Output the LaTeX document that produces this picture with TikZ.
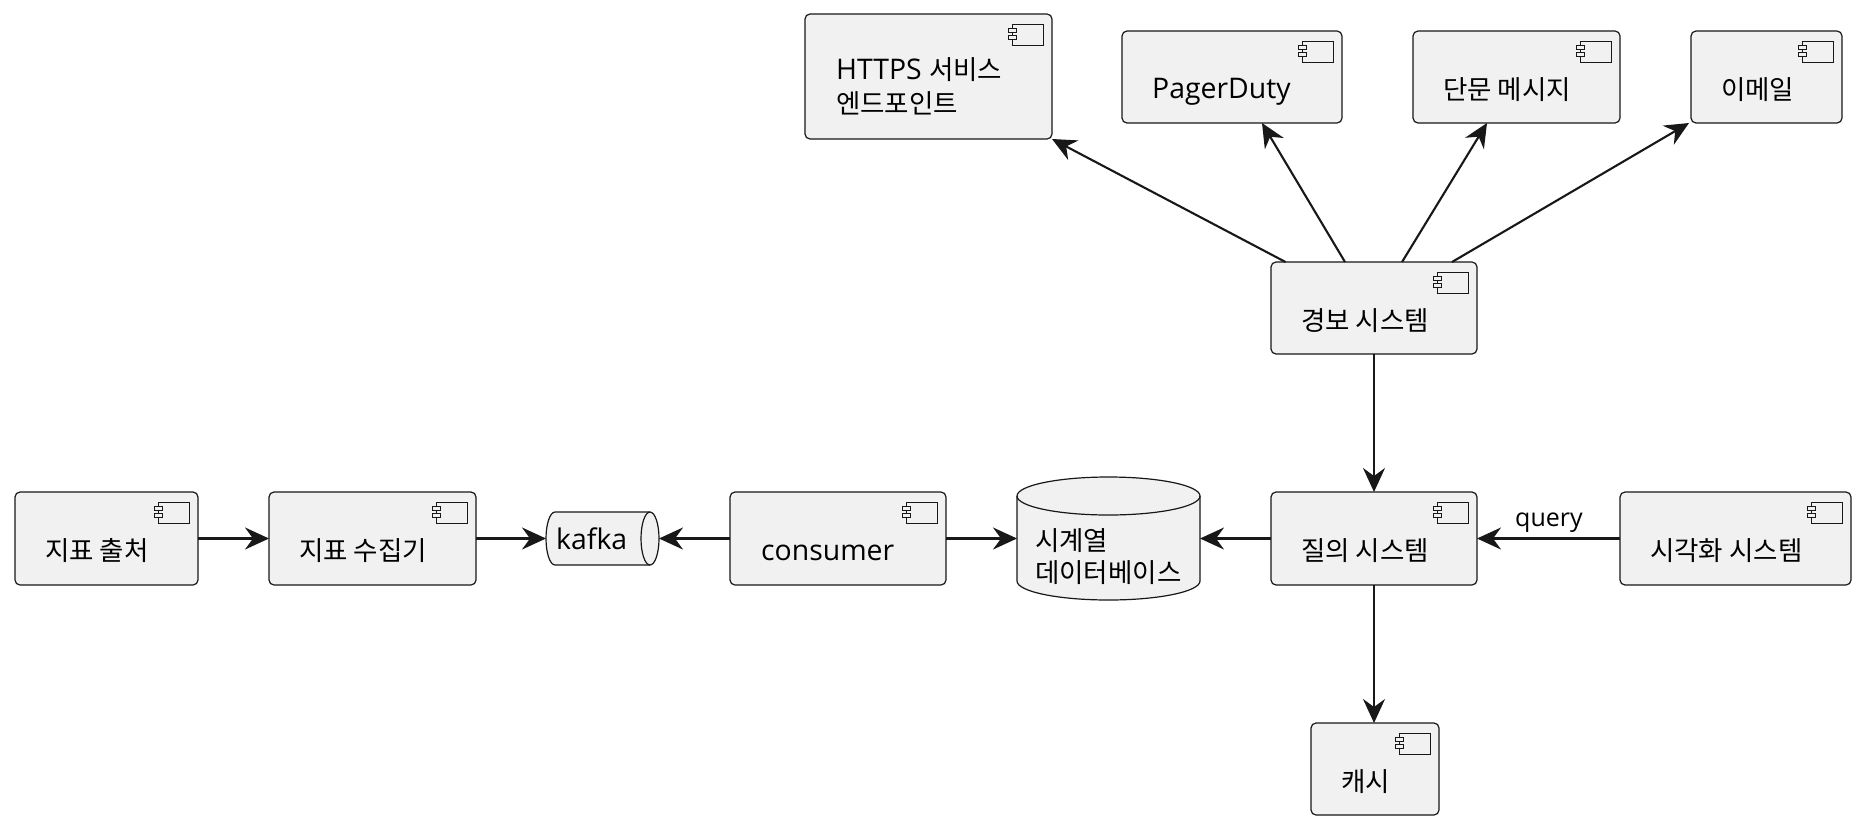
\documentclass[tikz,border=0pt]{standalone}
\usepackage{fontspec}
\setmainfont{Open Sans}
\newfontfamily\kr{Noto Sans CJK KR}
\usetikzlibrary{arrows.meta}
\definecolor{boxfill}{HTML}{F1F1F1}
\definecolor{ink}{HTML}{181818}
\newcommand\K[1]{{\kr\fontsize{26.5pt}{34pt}\selectfont #1}}
\begin{document}
\begin{tikzpicture}[x=1pt,y=-1pt,
  comp/.style={draw=ink, fill=boxfill, line width=1.2pt, rounded corners=5pt,
    outer sep=0pt, inner sep=0pt,
    path picture={
      \draw[ink, line width=0.9pt, sharp corners]
        ([shift={(-40pt,-10pt)}]path picture bounding box.north east) rectangle
        ([shift={(-9pt,-31pt)}]path picture bounding box.north east);
      \draw[ink, fill=boxfill, line width=0.9pt, sharp corners]
        ([shift={(-44pt,-14pt)}]path picture bounding box.north east) rectangle
        ([shift={(-36pt,-18.5pt)}]path picture bounding box.north east);
      \draw[ink, fill=boxfill, line width=0.9pt, sharp corners]
        ([shift={(-44pt,-21pt)}]path picture bounding box.north east) rectangle
        ([shift={(-36pt,-25.5pt)}]path picture bounding box.north east);
    }},
  ghost/.style={inner sep=0pt, outer sep=0pt},
  txt/.style={anchor=base west, inner sep=0pt, text=black, font=\fontsize{28.4pt}{34pt}\selectfont},
  lbl/.style={anchor=base west, inner sep=0pt, text=black, font=\fontsize{25pt}{30pt}\selectfont},
  arr/.style={draw=ink, line width=2.1pt, -{Stealth[length=24pt,width=22pt,inset=8pt]}}
]
\path[fill=white] (0,0) rectangle (1862,825);

% component boxes
\node[comp, minimum width=183pt, minimum height=93pt] (src) at (106.5,538.5) {};
\node[comp, minimum width=207pt, minimum height=93pt] (col) at (372.5,538.5) {};
\node[comp, minimum width=216pt, minimum height=93pt] (cons) at (838,538.5) {};
\node[comp, minimum width=206pt, minimum height=93pt] (query) at (1374,538.5) {};
\node[comp, minimum width=231pt, minimum height=93pt] (vis) at (1735.5,538.5) {};
\node[comp, minimum width=128pt, minimum height=92pt] (cache) at (1375,769) {};
\node[comp, minimum width=206pt, minimum height=92pt] (alert) at (1374,308) {};
\node[comp, minimum width=247pt, minimum height=125pt] (https) at (928.5,76.5) {};
\node[comp, minimum width=220pt, minimum height=92pt] (pd) at (1232,77) {};
\node[comp, minimum width=207pt, minimum height=92pt] (sms) at (1516.5,77) {};
\node[comp, minimum width=151pt, minimum height=92pt] (mail) at (1766.5,77) {};

% kafka queue
\node[ghost, minimum width=113pt, minimum height=53pt] (kafka) at (602.5,538.5) {};
\draw[ink, fill=boxfill, line width=1.2pt]
  (555,512) -- (650,512) arc[start angle=90, end angle=-90, x radius=9pt, y radius=26.5pt]
  -- (555,565) arc[start angle=270, end angle=90, x radius=9pt, y radius=26.5pt] -- cycle;
\draw[ink, line width=1.2pt] (650,512) arc[start angle=90, end angle=270, x radius=9pt, y radius=26.5pt];

% database cylinder
\node[ghost, minimum width=183pt, minimum height=124pt] (db) at (1108.5,538.5) {};
\draw[ink, fill=boxfill, line width=1.2pt]
  (1017,496) -- (1017,581) arc[start angle=180, end angle=360, x radius=91.5pt, y radius=19pt]
  -- (1200,496) arc[start angle=0, end angle=180, x radius=91.5pt, y radius=19pt] -- cycle;
\draw[ink, line width=1.2pt] (1017,496) arc[start angle=180, end angle=360, x radius=91.5pt, y radius=19pt];

% texts
\node[txt] (src-t) at (45,560) {\K{지표 출처}};
\node[txt] (col-t) at (299,560) {\K{지표 수집기}};
\node[txt] (cons-t) at (761,560) {consumer};
\node[txt] (query-t) at (1301,560) {\K{질의 시스템}};
\node[txt] (vis-t) at (1650,560) {\K{시각화 시스템}};
\node[txt] (cache-t) at (1341,791) {\K{캐시}};
\node[txt] (alert-t) at (1301,330) {\K{경보 시스템}};
\node[txt] (https-t1) at (836,79) {HTTPS \K{서비스}};
\node[txt] (https-t2) at (836,113) {\K{엔드포인트}};
\node[txt] (pd-t) at (1152,98.5) {PagerDuty};
\node[txt] (sms-t) at (1443,99) {\K{단문 메시지}};
\node[txt] (mail-t) at (1721,99) {\K{이메일}};
\node[txt] (kafka-t) at (556,549) {kafka};
\node[txt] (db-t1) at (1035,550) {\K{시계열}};
\node[txt] (db-t2) at (1035,582) {\K{데이터베이스}};
\node[lbl] (q-lbl) at (1515,526) {query};

% connectors
\draw[arr] (src.east) -- (col.west);
\draw[arr] (col.east) -- (kafka.west);
\draw[arr] (cons.west) -- (kafka.east);
\draw[arr] (cons.east) -- (db.west);
\draw[arr] (query.west) -- (db.east);
\draw[arr] (vis.west) -- (query.east);
\draw[arr] (alert.south) -- (query.north);
\draw[arr] (query.south) -- (query.south |- cache.north);
\draw[arr] ([xshift=14.5pt]alert.north west) -- (https.south east);
\draw[arr] ([xshift=74pt]alert.north west) -- ([xshift=140pt]pd.south west);
\draw[arr] ([xshift=131pt]alert.north west) -- ([xshift=74pt]sms.south west);
\draw[arr] ([xshift=181pt]alert.north west) -- ([xshift=-2pt]mail.south west);
\end{tikzpicture}
\end{document}
